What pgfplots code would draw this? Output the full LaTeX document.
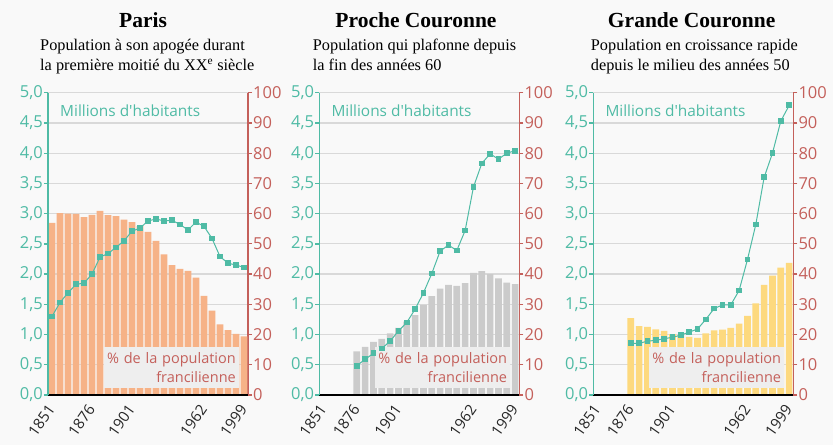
\documentclass[border=0pt]{standalone}
\usepackage{fontspec}
\setmainfont{Open Sans}[Ligatures=TeXOff]
\newfontfamily\seriffont{Liberation Serif}
\usepackage{pgfplots}
\usepackage{pgfplotstable}
\pgfplotsset{compat=1.18}
\definecolor{bgc}{HTML}{F9F9F9}
\definecolor{popc}{HTML}{4FBBA5}
\definecolor{pctc}{HTML}{C4605B}
\definecolor{gridc}{HTML}{D9D9D9}
\definecolor{parisbar}{HTML}{F6B287}
\definecolor{procbar}{HTML}{CBCBCB}
\definecolor{grandbar}{HTML}{FDD97E}
\definecolor{boxc}{HTML}{EEEEEE}

\pgfplotstableread{
i pct pop
0 56.9 1.30
1 60.2 1.53
2 60.0 1.69
3 59.9 1.83
4 58.8 1.85
5 59.6 2.00
6 60.9 2.28
7 59.5 2.34
8 59.2 2.44
9 58.0 2.55
10 57.2 2.71
11 55.9 2.76
12 54.0 2.88
13 51.0 2.91
14 46.5 2.88
15 43.0 2.89
16 41.7 2.82
17 41.1 2.73
18 38.8 2.86
19 32.8 2.79
20 27.9 2.59
21 23.4 2.29
22 21.5 2.18
23 20.2 2.15
24 19.4 2.11
}\paris

\pgfplotstableread{
i pct pop
4 14.4 0.485
5 15.9 0.59
6 17.6 0.69
7 18.6 0.77
8 20.4 0.89
9 22.2 1.06
10 24.3 1.20
11 26.4 1.42
12 29.8 1.69
13 32.7 2.01
14 35.2 2.38
15 36.4 2.48
16 36.1 2.39
17 37.0 2.72
18 40.4 3.44
19 41.0 3.83
20 40.0 3.99
21 38.6 3.90
22 37.2 4.00
23 36.7 4.04
}\proche

\pgfplotstableread{
i pct pop
4 25.4 0.855
5 22.8 0.855
6 22.5 0.89
7 21.7 0.905
8 21.2 0.93
9 20.1 0.955
10 19.8 0.99
11 19.2 1.04
12 18.9 1.09
13 20.4 1.25
14 21.4 1.43
15 21.6 1.49
16 22.2 1.49
17 23.6 1.73
18 26.2 2.24
19 30.3 2.82
20 36.4 3.60
21 39.5 4.00
22 42.1 4.53
23 43.7 4.79
}\grande

\pgfplotsset{
  common/.style={
    scale only axis, width=200pt, height=302.3pt, anchor=south west,
    tick align=outside, major tick length=4pt,
    /pgf/number format/assume math mode=true,
  },
  rightax/.style={
    common,
    ymin=0, ymax=100, ytick={0,10,...,100},
    ymajorgrids, grid style={gridc, line width=1.3pt},
    axis y line*=right, axis x line=none,
    y axis line style={pctc, line width=1.3pt},
    ytick style={pctc, line width=1.3pt},
    yticklabel style={text=pctc, font=\fontsize{16.5}{18}\selectfont, inner sep=1pt},
  },
  leftax/.style={
    common, clip=false,
    ymin=0, ymax=5, ytick={0,0.5,...,5},
    axis y line*=left, axis x line*=bottom,
    y axis line style={popc, line width=1.3pt},
    x axis line style={black, line width=1.5pt},
    ytick style={popc, line width=1.3pt},
    xtick style={draw=none},
    yticklabel style={text=popc, font=\fontsize{16.5}{18}\selectfont, inner sep=1pt,
      /pgf/number format/.cd, use comma, fixed, fixed zerofill, precision=1},
    xticklabel shift=6pt,
    xticklabel style={text=black!85, font=\fontsize{15}{17}\selectfont, rotate=55, anchor=east, inner sep=1pt},
  },
  popline/.style={popc, line width=1pt, mark=square*, mark size=2.4pt, mark options={fill=popc, draw=popc, solid}},
}

\newcommand\pctbox{\node[fill=boxc, anchor=south east, text width=129pt, minimum height=41pt, inner sep=3pt, align=right, text=pctc, font=\fontsize{14.5}{19}\selectfont] at (rel axis cs:0.955,0.023) {\% de la population\\francilienne};}
\newcommand\millions{\node[anchor=base west, text=popc, font=\fontsize{15.4}{18}\selectfont, inner sep=0pt] at (rel axis cs:0.06,0.92) {Millions d'habitants};}

\begin{document}
\begin{tikzpicture}[x=1pt,y=1pt]
\fill[bgc] (0,0) rectangle (833,445);

% ---------- Paris ----------
\begin{axis}[rightax, at={(48pt,50pt)}, xmin=-0.5, xmax=24.5]
\addplot[ybar, bar width=0.84, fill=parisbar, draw=none] table[x=i, y=pct] {\paris};
\end{axis}
\begin{axis}[leftax, at={(48pt,50pt)}, xmin=-0.5, xmax=24.5,
  xtick={0,5,10,19,24}, xticklabels={1851,1876,1901,1962,1999}]
\addplot[popline] table[x=i, y=pop] {\paris};
\pctbox
\millions
\end{axis}

% ---------- Proche Couronne ----------
\begin{axis}[rightax, at={(319.3pt,50pt)}, xmin=-0.5, xmax=23.5]
\addplot[ybar, bar width=0.8, fill=procbar, draw=none] table[x=i, y=pct] {\proche};
\end{axis}
\begin{axis}[leftax, at={(319.3pt,50pt)}, xmin=-0.5, xmax=23.5,
  xtick={0,4,9,18,23}, xticklabels={1851,1876,1901,1962,1999}]
\addplot[popline] table[x=i, y=pop] {\proche};
\pctbox
\millions
\end{axis}

% ---------- Grande Couronne ----------
\begin{axis}[rightax, at={(593.3pt,50pt)}, xmin=-0.5, xmax=23.5]
\addplot[ybar, bar width=0.8, fill=grandbar, draw=none] table[x=i, y=pct] {\grande};
\end{axis}
\begin{axis}[leftax, at={(593.3pt,50pt)}, xmin=-0.5, xmax=23.5,
  xtick={0,4,9,18,23}, xticklabels={1851,1876,1901,1962,1999}]
\addplot[popline] table[x=i, y=pop] {\grande};
\pctbox
\millions
\end{axis}

% ---------- titles ----------
\begin{scope}[every node/.style={inner sep=0pt}]
\node[anchor=base, font=\seriffont\bfseries\fontsize{21.5}{24}\selectfont] at (143,417.7) {Paris};
\node[anchor=base west, font=\seriffont\fontsize{16.3}{20}\selectfont] at (40,394.3) {Population à son apogée durant};
\node[anchor=base west, font=\seriffont\fontsize{16.3}{20}\selectfont] at (40,374.3) {la première moitié du XX\textsuperscript{e} siècle};

\node[anchor=base, font=\seriffont\bfseries\fontsize{21.5}{24}\selectfont] at (416,417.7) {Proche Couronne};
\node[anchor=base west, font=\seriffont\fontsize{16.3}{20}\selectfont] at (312.7,394.3) {Population qui plafonne depuis};
\node[anchor=base west, font=\seriffont\fontsize{16.3}{20}\selectfont] at (312.7,374.3) {la fin des années 60};

\node[anchor=base, font=\seriffont\bfseries\fontsize{21.5}{24}\selectfont] at (691.7,417.7) {Grande Couronne};
\node[anchor=base west, font=\seriffont\fontsize{16.3}{20}\selectfont] at (590.7,394.3) {Population en croissance rapide};
\node[anchor=base west, font=\seriffont\fontsize{16.3}{20}\selectfont] at (590.7,374.3) {depuis le milieu des années 50};
\end{scope}
\end{tikzpicture}
\end{document}
